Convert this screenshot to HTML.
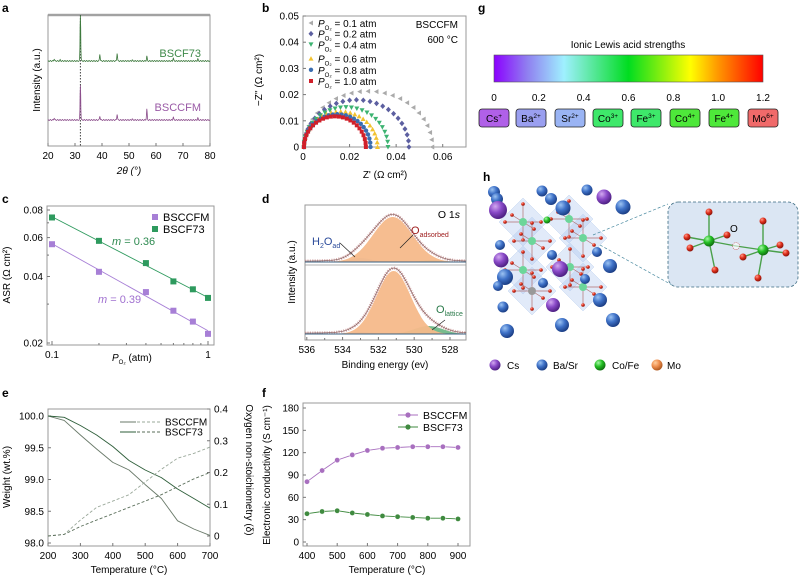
<!DOCTYPE html>
<html><head><meta charset="utf-8"><style>
body{margin:0;background:#fff}
svg{display:block;font-family:"Liberation Sans",sans-serif}
</style></head><body>
<svg id="fig" width="800" height="576" viewBox="0 0 800 576" xmlns="http://www.w3.org/2000/svg">
<defs>
<radialGradient id="gBlue" cx="35%" cy="30%" r="70%"><stop offset="0" stop-color="#9cc3f2"/><stop offset="0.5" stop-color="#3f72c8"/><stop offset="1" stop-color="#1c3f86"/></radialGradient>
<radialGradient id="gPur" cx="35%" cy="30%" r="70%"><stop offset="0" stop-color="#d2a8f0"/><stop offset="0.5" stop-color="#8a4ac8"/><stop offset="1" stop-color="#4f2184"/></radialGradient>
<radialGradient id="gGrn" cx="35%" cy="30%" r="70%"><stop offset="0" stop-color="#a6f7a6"/><stop offset="0.5" stop-color="#24c024"/><stop offset="1" stop-color="#107010"/></radialGradient>
<radialGradient id="gRed" cx="35%" cy="30%" r="70%"><stop offset="0" stop-color="#ff9a8a"/><stop offset="0.5" stop-color="#e0301c"/><stop offset="1" stop-color="#8c140a"/></radialGradient>
<radialGradient id="gOrg" cx="35%" cy="30%" r="70%"><stop offset="0" stop-color="#ffd0a0"/><stop offset="0.5" stop-color="#ef9050"/><stop offset="1" stop-color="#b05a20"/></radialGradient>
<linearGradient id="rainbow" x1="0" x2="1" y1="0" y2="0">
<stop offset="0" stop-color="#8b00ff"/><stop offset="0.12" stop-color="#8f7cf0"/><stop offset="0.26" stop-color="#9ff0ff"/><stop offset="0.5" stop-color="#00dd20"/><stop offset="0.73" stop-color="#ffff00"/><stop offset="0.83" stop-color="#ff9a00"/><stop offset="1" stop-color="#ff0000"/></linearGradient>
</defs>
<g font-weight="bold" font-size="12" fill="#000">
<text x="2" y="12">a</text>
<text x="262" y="12">b</text>
<text x="2" y="203">c</text>
<text x="262" y="203">d</text>
<text x="2" y="397">e</text>
<text x="262" y="397">f</text>
<text x="478" y="12">g</text>
<text x="483" y="181">h</text>
</g>

<!-- Panel g -->
<g font-size="10">
<text x="628" y="48" text-anchor="middle">Ionic Lewis acid strengths</text>
<rect x="494" y="55" width="269" height="27" fill="url(#rainbow)" stroke="#555" stroke-width="0.6"/>
<g id="gticks" text-anchor="middle" font-size="10"></g>
<g id="gboxes"></g>
</g>

<!-- Panel h -->
<g id="hpanel"></g>
<g font-size="10">
<circle cx="495" cy="365" r="5.5" fill="url(#gPur)"/><text x="507" y="369">Cs</text>
<circle cx="542" cy="365" r="5.5" fill="url(#gBlue)"/><text x="553" y="369">Ba/Sr</text>
<circle cx="600" cy="365" r="5.5" fill="url(#gGrn)"/><text x="612" y="369">Co/Fe</text>
<circle cx="657" cy="365" r="5.5" fill="url(#gOrg)"/><text x="667" y="369">Mo</text>
</g>
</svg>
<script>
const NS='http://www.w3.org/2000/svg';
const svg=document.getElementById('fig');
function E(tag,at,par){const e=document.createElementNS(NS,tag);for(const k in at)e.setAttribute(k,at[k]);(par||svg).appendChild(e);return e;}
function T(x,y,s,at,par){const e=E('text',Object.assign({x:x,y:y,'font-size':10},at||{}),par);e.textContent=s;return e;}

// ---------- DATA ----------
// a: XRD
const xrdPos=[22.3,24.5,32,39.2,45.6,51.2,56.6,66.4,75.5];
const xrdBSCF73=[2,1,46,7,8,1,5,3,2];
const xrdBSCCFM=[2,0,35,4,6,1,11,3,2];
// b: impedance arcs
const pO2Labels=['0.1','0.2','0.4','0.6','0.8','1.0'];
const arcR=[0.0555,0.0455,0.0365,0.032,0.029,0.027];
const arcH=[0.0213,0.018,0.0152,0.0135,0.0125,0.0117];
// c: ASR
const asrP=[0.1,0.2,0.4,0.6,0.8,1];
const asrBSCCFM=[0.056,0.042,0.034,0.028,0.025,0.022];
const asrBSCF73=[0.074,0.058,0.046,0.038,0.035,0.032];
// d: XPS components [center, amplitude(a.u.), sigma]
const xpsTopAds=[531.2,45,1.1], xpsTopH2O=[533,4,0.6], xpsTopLat=[529,2,0.6];
const xpsBotAds=[531.15,63,0.95], xpsBotH2O=[533,2,0.7], xpsBotLat=[529.2,8,0.8];
// e: TGA
const tgaT=[200,250,300,350,400,450,500,550,600,650,700];
const wBSCF73=[100,99.98,99.85,99.7,99.52,99.3,99.15,99.03,98.85,98.7,98.55];
const wBSCCFM=[100,99.93,99.7,99.48,99.27,99.15,98.92,98.7,98.35,98.22,98.12];
const dBSCCFM=[0,0.005,0.05,0.09,0.11,0.13,0.17,0.21,0.245,0.26,0.28];
const dBSCF73=[0,0.005,0.03,0.05,0.07,0.09,0.11,0.13,0.155,0.18,0.2];
// f: conductivity
const condT=[400,450,500,550,600,650,700,750,800,850,900];
const condBSCCFM=[81,96,110,117,123,126,127,128,128,128,127];
const condBSCF73=[38,41,42,39,37,35,34,33,32,32,31];
// g
const lewisTicks=['0','0.2','0.4','0.6','0.8','1.0','1.2'];
const ions=[['Cs','+','#b060e8'],['Ba','2+','#9a9ff0'],['Sr','2+','#9ab4f4'],['Co','3+','#3ee86a'],['Fe','3+','#3ee86a'],['Co','4+','#4ee83a'],['Fe','4+','#4ee83a'],['Mo','6+','#f06a6a']];

function frame(x1,y1,x2,y2,name){const r=E('rect',{x:x1,y:y1,width:x2-x1,height:y2-y1,fill:'none',stroke:'#999','stroke-width':1});

return r;}
function xtick(x,yb,lab,len){const l=E('line',{x1:x,x2:x,y1:yb,y2:yb-(len||3),stroke:'#777'});


if(lab!==null){const t=T(x,yb+13,lab,{'text-anchor':'middle'});

}}
function ytick(xl,y,lab,len,right){const d=right?-1:1;const l=E('line',{x1:xl,x2:xl+d*(len||3),y1:y,y2:y,stroke:'#777'});


if(lab!==null){const t=T(right?xl+4:xl-4,y+3.5,lab,{'text-anchor':right?'start':'end'});

}}
function path(pts,at){const p=E('path',Object.assign({d:'M'+pts.map(p=>p[0].toFixed(1)+','+p[1].toFixed(1)).join('L'),fill:'none'},at));return p;}
function ylabel(x,y,s,rot){const t=T(x,y,s,{'text-anchor':'middle',transform:'rotate('+(rot||-90)+' '+x+' '+y+')'});

return t;}

// ---------- Panel a ----------
{const X=v=>48+(v-20)/60*162;
E('line',{x1:48,x2:210,y1:15,y2:15,stroke:'#aaa','stroke-width':2.5});
frame(48,15,210,146,'xrd-frame');
[20,30,40,50,60,70,80].forEach(v=>xtick(X(v),146,String(v)));
const dl=E('line',{x1:X(32),x2:X(32),y1:15,y2:146,stroke:'#444','stroke-dasharray':'1.5,1.5'});


function xrd(base,h,col,name){const pts=[];for(let v=20;v<=80;v+=0.1){let y=0;xrdPos.forEach((p,i)=>{y+=h[i]*Math.exp(-Math.pow((v-p)/0.18,2));});pts.push([X(v),base-y-0.5*Math.sin(v*7)]);}
const p=path(pts,{stroke:col,'stroke-width':0.8});

}
xrd(61,xrdBSCF73,'#3e7a3e','xrd-bscf73');
xrd(120,xrdBSCCFM,'#8c4f8c','xrd-bsccfm');
let t=T(201,67-10,'BSCF73',{'text-anchor':'end',fill:'#3f8a4a','font-size':11});


t=T(201,116-5,'BSCCFM',{'text-anchor':'end',fill:'#9a5aa6','font-size':11});


ylabel(40,80,'Intensity (a.u.)');
t=T(129,174,'2θ (°)',{'text-anchor':'middle','font-style':'italic'});

}

// ---------- Panel b ----------
{const X=v=>303+v/0.07*163, Y=v=>147-v/0.05*131;
frame(303,16,466,147,'eis-frame');
[0,0.02,0.04,0.06].forEach(v=>xtick(X(v),147,String(v)));
[0,0.01,0.02,0.03,0.04,0.05].forEach(v=>ytick(303,Y(v),String(v)));
const cols=['#aaaaaa','#5c5fa0','#3cb371','#f2c230','#3a6db0','#d0202a'];
const shp=['tl','dia','td','tu','ci','sq'];
function mark(x,y,s,c,par){let e;
if(s==='ci')e=E('circle',{cx:x,cy:y,r:2.2,fill:c},par);
else if(s==='sq')e=E('rect',{x:x-2,y:y-2,width:4,height:4,fill:c},par);
else{let p;if(s==='tl')p=[[x-2.5,y],[x+2,y-2.5],[x+2,y+2.5]];else if(s==='dia')p=[[x,y-2.8],[x+2.5,y],[x,y+2.8],[x-2.5,y]];else if(s==='td')p=[[x-2.5,y-2],[x+2.5,y-2],[x,y+2.5]];else p=[[x-2.5,y+2],[x+2.5,y+2],[x,y-2.5]];
e=E('polygon',{points:p.map(q=>q.join(',')).join(' '),fill:c},par);}

}
arcR.forEach((R,i)=>{const g=E('g',{});


for(let k=0;k<=24;k++){const a=Math.PI*k/24;const xv=0.0004+(R-0.0004)/2*(1-Math.cos(a));const yv=arcH[i]*Math.sin(a);mark(X(xv),Y(yv),shp[i],cols[i],g);}
const ly=23+i*(i<3?10.7:11.2)+(i>=3?2:0);
mark(311,ly,shp[i],cols[i]);
const t=E('text',{x:318,y:ly+4,'font-size':10});


t.innerHTML='<tspan font-style="italic">P</tspan><tspan font-size="6" dy="3">O₂</tspan><tspan dy="-3"> = '+pO2Labels[i]+' atm</tspan>';});
let t=T(458,28,'BSCCFM',{'text-anchor':'end'});


t=T(458,43,'600 °C',{'text-anchor':'end'});


ylabel(262,80,"−Z'' (Ω cm²)");
t=T(385,178,"Z' (Ω cm²)",{'text-anchor':'middle'});

}

// ---------- Panel c ----------
{const X=v=>52+Math.log10(v/0.1)*156, Y=v=>210+Math.log(0.08/v)/Math.log(4)*133;
frame(47,206,214,345,'asr-frame');
[0.1,0.2,0.3,0.4,0.5,0.6,0.7,0.8,0.9,1].forEach(v=>xtick(X(v),345,(v===0.1?'0.1':v===1?'1':null),(v===0.1||v===1)?4:2));
[0.02,0.04,0.06,0.08].forEach(v=>ytick(47,Y(v),v.toFixed(2)));
[0.03,0.05,0.07].forEach(v=>ytick(47,Y(v),null,2));
function ser(vals,col,name){const lx1=0.1,lx2=1;
const n=vals.length;let sx=0,sy=0,sxx=0,sxy=0;asrP.forEach((p,i)=>{const a=Math.log(p),b=Math.log(vals[i]);sx+=a;sy+=b;sxx+=a*a;sxy+=a*b;});
const m=(n*sxy-sx*sy)/(n*sxx-sx*sx),c=(sy-m*sx)/n;
const l=E('line',{x1:X(lx1),y1:Y(Math.exp(c+m*Math.log(lx1))),x2:X(lx2),y2:Y(Math.exp(c+m*Math.log(lx2))),stroke:col,'stroke-width':0.9});


vals.forEach((v,i)=>{const r=E('rect',{x:X(asrP[i])-3,y:Y(v)-3,width:6,height:6,fill:col});

});}
ser(asrBSCF73,'#2e9a5e','asr-bscf73');
ser(asrBSCCFM,'#a77fd6','asr-bsccfm');
E('rect',{x:152,y:214,width:6,height:6,fill:'#a77fd6'});E('rect',{x:152,y:226,width:6,height:6,fill:'#2e9a5e'});
let t=T(163,221,'BSCCFM',{'font-size':11});


t=T(163,233,'BSCF73',{'font-size':11});


t=E('text',{x:112,y:245,'font-size':11,fill:'#2e8a50'});t.innerHTML='<tspan font-style="italic">m</tspan> = 0.36';


t=E('text',{x:98,y:303,'font-size':11,fill:'#a070d0'});t.innerHTML='<tspan font-style="italic">m</tspan> = 0.39';


ylabel(10,275,'ASR (Ω cm²)');
t=E('text',{x:112,y:361,'font-size':10});t.innerHTML='<tspan font-style="italic">P</tspan><tspan font-size="6" dy="3">O₂</tspan><tspan dy="-3"> (atm)</tspan>';

}

// ---------- Panel d ----------
{const X=v=>305+(536.1-v)*17.9;
frame(305,205,466,340,'xps-frame');
[536,535,534,533,532,531,530,529,528].forEach(v=>xtick(X(v),340,v%2===0?String(v):null,v%2===0?3:2));
function g(c,v){return c[1]*Math.exp(-Math.pow((v-c[0])/c[2],2)/2);}
function spec(base,ads,h2o,lat,name){
const comps=[[h2o,'#8fb8d8'],[lat,'#5fb07a'],[ads,'#f6b98a']];
comps.forEach(([c,col],k)=>{const pts=[];for(let v=536.1;v>=527.1;v-=0.05)pts.push([X(v),base-g(c,v)]);
const p=path(pts.concat([[X(527.1),base],[X(536.1),base]]),{fill:col,'fill-opacity':k===2?0.95:0.85,stroke:'none'});

});
const env=[];for(let v=536.1;v>=527.1;v-=0.05){env.push([X(v),base-1-g(ads,v)-g(h2o,v)-g(lat,v)-1.5*Math.exp(-Math.pow((v-531.5)/2.2,2))]);}
let p=path(env,{stroke:'#d8b0b0','stroke-width':3,'stroke-dasharray':'1.2,1.2'});


p=path(env,{stroke:'#7a5050','stroke-width':0.6});


const bl=E('line',{x1:305,x2:466,y1:base,y2:base,stroke:'#3a6080','stroke-width':1});

}
spec(262,xpsTopAds,xpsTopH2O,xpsTopLat,'xps-top');
spec(334,xpsBotAds,xpsBotH2O,xpsBotLat,'xps-bottom');
const sep=E('line',{x1:305,x2:466,y1:265,y2:265,stroke:'#999','stroke-width':0.8});


let t=E('text',{x:460,y:218,'font-size':10.5,'text-anchor':'end'});t.innerHTML='O 1<tspan font-style="italic">s</tspan>';


t=E('text',{x:411,y:234,'font-size':11,fill:'#a02020'});t.innerHTML='O<tspan font-size="7" dy="3">adsorbed</tspan>';


t=E('text',{x:312,y:245,'font-size':11,fill:'#2a4a9a'});t.innerHTML='H<tspan font-size="7" dy="3">2</tspan><tspan dy="-3">O</tspan><tspan font-size="7" dy="3">ad</tspan>';


t=E('text',{x:436,y:313,'font-size':11,fill:'#2a7a4a'});t.innerHTML='O<tspan font-size="7" dy="3">lattice</tspan>';


[[413,235,400,248],[340,243,355,257],[445,320,432,330]].forEach(a=>{const l=E('line',{x1:a[0],y1:a[1],x2:a[2],y2:a[3],stroke:'#222','stroke-width':0.7});

});
ylabel(295,272,'Intensity (a.u.)');
t=T(385,368,'Binding energy (ev)',{'text-anchor':'middle'});

}

// ---------- Panel e ----------
{const X=v=>48+(v-200)/500*162, YL=v=>543-(v-98)/2*127, YR=v=>536-v/0.4*127;
frame(48,409,210,546,'tga-frame');
[200,300,400,500,600,700].forEach(v=>xtick(X(v),546,String(v)));
[98,98.5,99,99.5,100].forEach(v=>ytick(48,YL(v),v.toFixed(1)));
[0,0.1,0.2,0.3,0.4].forEach(v=>ytick(210,YR(v),String(v),3,true));
function ln(vals,Y,col,dash,name){const p=path(tgaT.map((t,i)=>[X(t),Y(vals[i])]),{stroke:col,'stroke-width':0.9,'stroke-dasharray':dash||'none','stroke-linejoin':'round'});

}
ln(wBSCCFM,YL,'#6a7a6a',null,'weight-bsccfm');
ln(wBSCF73,YL,'#2e5e3a',null,'weight-bscf73');
ln(dBSCCFM,YR,'#9aa89a','3,2','delta-bsccfm');
ln(dBSCF73,YR,'#5a6e5a','3,2','delta-bscf73');
E('line',{x1:120,x2:136,y1:422,y2:422,stroke:'#6a7a6a'});E('line',{x1:137,x2:160,y1:422,y2:422,stroke:'#9aa89a','stroke-dasharray':'3,2'});
E('line',{x1:120,x2:136,y1:432,y2:432,stroke:'#2e5e3a'});E('line',{x1:137,x2:160,y1:432,y2:432,stroke:'#5a6e5a','stroke-dasharray':'3,2'});
let t=T(165,425.5,'BSCCFM');


t=T(165,435.5,'BSCF73');


ylabel(10,477,'Weight (wt.%)');
ylabel(246,470,'Oxygen non-stoichiometry (δ)',90);
t=T(129,573,'Temperature (°C)',{'text-anchor':'middle'});

}

// ---------- Panel f ----------
{const X=v=>307+(v-400)*0.302, Y=v=>542-v/180*134;
frame(303,403,470,546,'conductivity-frame');
[400,500,600,700,800,900].forEach(v=>xtick(X(v),546,String(v)));
[0,30,60,90,120,150,180].forEach(v=>ytick(303,Y(v),String(v)));
function ser(vals,col,name){const p=path(condT.map((t,i)=>[X(t),Y(vals[i])]),{stroke:col,'stroke-width':0.9});


vals.forEach((v,i)=>{const c=E('circle',{cx:X(condT[i]),cy:Y(v),r:2.6,fill:col,stroke:'#fff','stroke-width':0.4});

});}
ser(condBSCCFM,'#a86fbf','cond-bsccfm');
ser(condBSCF73,'#3f8a3f','cond-bscf73');
E('line',{x1:398,x2:418,y1:415,y2:415,stroke:'#a86fbf'});E('circle',{cx:408,cy:415,r:2.6,fill:'#a86fbf'});
E('line',{x1:398,x2:418,y1:427,y2:427,stroke:'#3f8a3f'});E('circle',{cx:408,cy:427,r:2.6,fill:'#3f8a3f'});
let t=T(423,419,'BSCCFM',{'font-size':10.5});


t=T(423,431,'BSCF73',{'font-size':10.5});


ylabel(270,475,'Electronic conductivity (S cm⁻¹)');
t=T(387,573,'Temperature (°C)',{'text-anchor':'middle'});

}

// ---------- Panel g ticks & boxes ----------
{const gt=document.getElementById('gticks'),gb=document.getElementById('gboxes');
lewisTicks.forEach((s,i)=>{const t=T(494+i*269/6,101,s,{'text-anchor':'middle'},gt);

});
const bx=[479,516,555,593,631,670,709,748];
ions.forEach((io,i)=>{const r=E('rect',{x:bx[i],y:109,width:30,height:18,rx:3,fill:io[2],stroke:'#222','stroke-width':0.8},gb);


const t=E('text',{x:bx[i]+15,y:122,'text-anchor':'middle','font-size':10},gb);t.innerHTML=io[0]+'<tspan font-size="6.5" dy="-4">'+io[1]+'</tspan>';

});}

// ---------- Panel h (illustration) ----------
{const h=document.getElementById('hpanel');
const oct=[[523,222],[569,219],[532,241],[583,238],[523,270],[570,267],[532,291],[583,287]];
oct.forEach(c=>{E('polygon',{points:[[c[0],c[1]-24],[c[0]+24,c[1]],[c[0],c[1]+24],[c[0]-24,c[1]]].map(p=>p.join(',')).join(' '),fill:'#a8c4ee','fill-opacity':0.35,stroke:'#c0d4f0','stroke-width':0.5},h);});
oct.forEach(c=>{[[0,-18],[18,0],[0,18],[-18,0],[-11,-7],[11,7]].forEach(d=>{E('line',{x1:c[0],y1:c[1],x2:c[0]+d[0],y2:c[1]+d[1],stroke:'#b07070','stroke-width':0.7},h);E('circle',{cx:c[0]+d[0],cy:c[1]+d[1],r:1.8,fill:'url(#gRed)'},h);});});
oct.forEach((c,i)=>E('circle',{cx:c[0],cy:c[1],r:4,fill:i===6?'#999':'#6cd69a'},h));
E('circle',{cx:547,cy:220,r:3.5,fill:'url(#gGrn)'},h);
const blue=[[494,192,6],[497,199,6],[542,191,5.5],[551,199,6],[563,208,7.5],[587,190,5.5],[623,207,7.5],[500,245,5],[552,255,5],[597,252,5],[610,266,7],[505,277,8],[498,286,5],[543,283,5],[585,279,5],[600,300,7],[503,307,5.5],[562,325,7],[613,320,7],[507,331,7]];
blue.forEach(b=>E('circle',{cx:b[0],cy:b[1],r:b[2],fill:'url(#gBlue)'},h));
[[498,210,9],[604,197,7.5],[501,260,7.5],[560,269,8],[553,305,7]].forEach(b=>E('circle',{cx:b[0],cy:b[1],r:b[2],fill:'url(#gPur)'},h));
E('line',{x1:593,y1:235,x2:668,y2:204,stroke:'#4a8aa0','stroke-width':0.7,'stroke-dasharray':'3,2'},h);
E('line',{x1:600,y1:245,x2:672,y2:285,stroke:'#4a8aa0','stroke-width':0.7,'stroke-dasharray':'3,2'},h);
E('rect',{x:668,y:202,width:130,height:85,rx:10,fill:'#dbe6f3',stroke:'#3a6a80','stroke-width':0.8,'stroke-dasharray':'3,2'},h);
[[709,241,[[709,212],[687,237],[690,248],[727,235],[715,270]]],[763,250,[[763,221],[780,245],[786,253],[743,257],[758,278]]]].forEach(o=>{o[2].forEach(p=>{E('line',{x1:o[0],y1:o[1],x2:p[0],y2:p[1],stroke:'#4aa04a','stroke-width':1.4},h);E('circle',{cx:p[0],cy:p[1],r:3.5,fill:'url(#gRed)'},h);});
E('line',{x1:o[0],y1:o[1],x2:736,y2:246,stroke:'#4aa04a','stroke-width':1.2},h);
E('circle',{cx:o[0],cy:o[1],r:5.5,fill:'url(#gGrn)'},h);});
E('circle',{cx:736,cy:246,r:3.5,fill:'#fff','fill-opacity':0.6,stroke:'#c04040','stroke-width':0.6,'stroke-dasharray':'1,1'},h);
const t=T(730,232,'O',{},h);

}
</script>
</body></html>
